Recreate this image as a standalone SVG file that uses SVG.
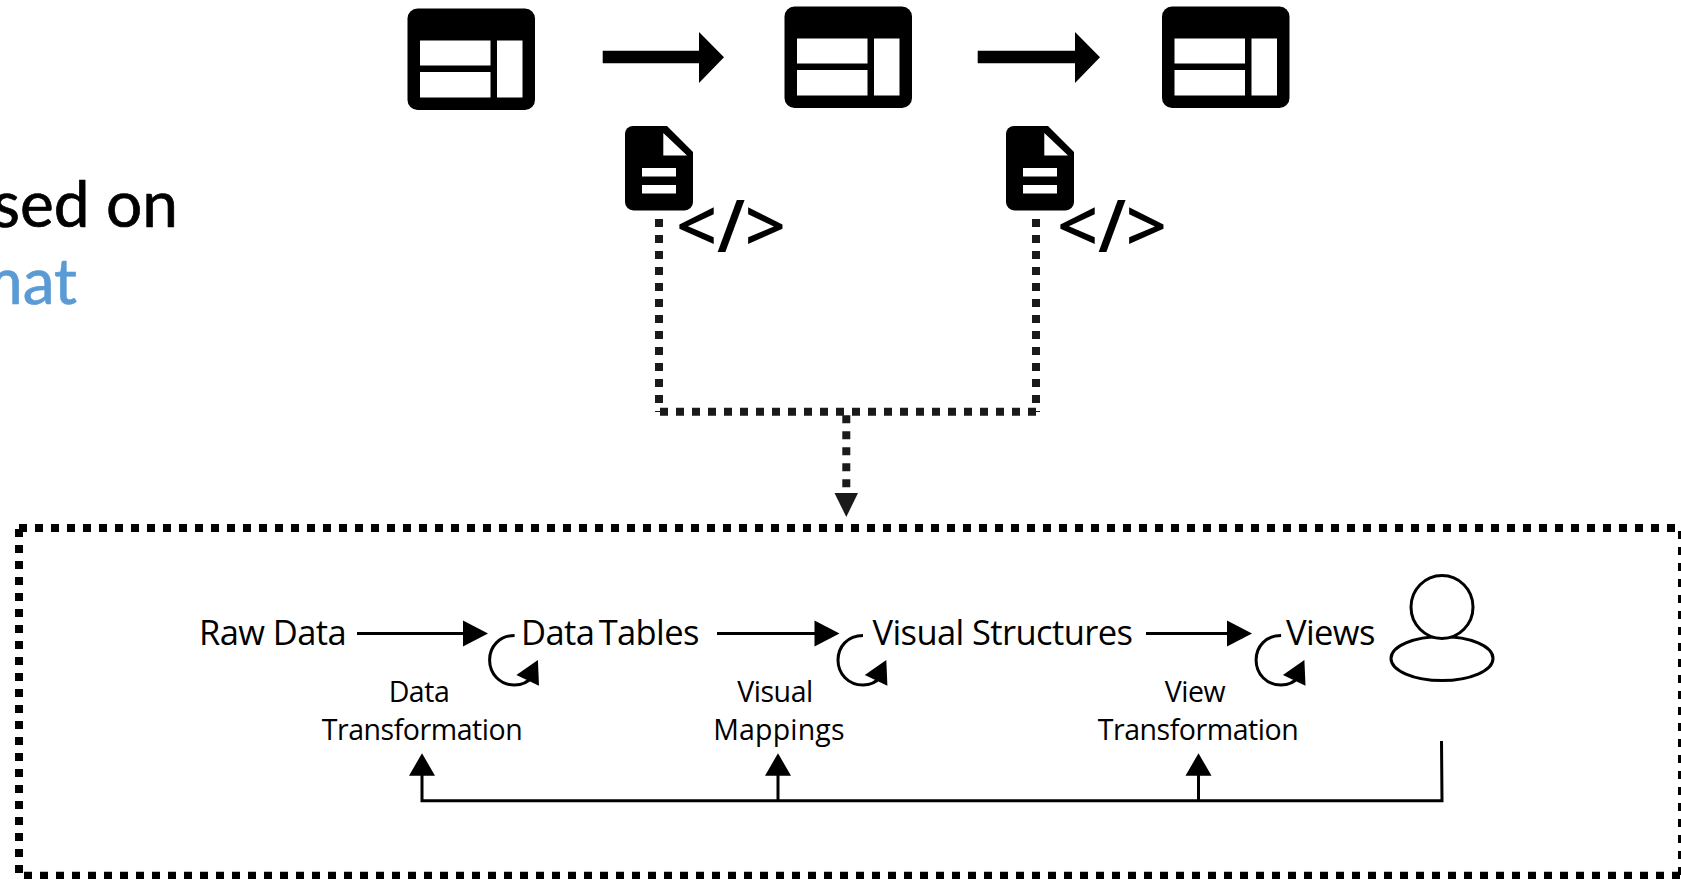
<svg xmlns="http://www.w3.org/2000/svg" width="1681" height="879" viewBox="0 0 1681 879">
<style>
.dot{fill:none;stroke:#1a1a1a;stroke-width:8;stroke-dasharray:8 8}
.box{fill:none;stroke:#000;stroke-width:8;stroke-dasharray:8 8}
.ln{fill:none;stroke:#000;stroke-width:3}
.big{font-family:"Open Sans","Noto Sans",sans-serif;font-size:34.500px;fill:#000;letter-spacing:-.6px}
.small{font-family:"Open Sans","Noto Sans",sans-serif;font-size:28.500px;fill:#000;letter-spacing:-.45px;text-anchor:middle}
.head{font-family:Lato,"Open Sans",sans-serif;font-size:64px;text-anchor:end;stroke-width:.7px;stroke-linejoin:round}
.code{font-family:"Open Sans",sans-serif;font-weight:600;font-size:72px;fill:#000}
</style>
<defs>
<g id="tbl"><rect x="0" y="0" width="127.500" height="101.500" rx="10" fill="#000"/><path fill="#fff" d="M12.500 32h70.500v25h-70.500zM12.500 63.500h70.500v25.500h-70.500zM89.500 32h25.500v57h-25.500z"/></g>
<g id="doc"><path fill="#000" d="M633 126H667L693 152V202a8.500 8.500 0 0 1-8.500 8.500H633.500a8.500 8.500 0 0 1-8.500-8.500V134a8 8 0 0 1 8-8z"/><path fill="#fff" d="M663.300 133L687 155.500H663.300zM642 168h34v8.500h-34zM642 185h34v8.500h-34z"/></g>
<g id="curl"><path class="ln" d="M514.600 635.500C499 635.500 489.600 647 489.600 660C489.600 674 500 685 514.600 685C522 685 528 682 532 677"/><path fill="#000" d="M516.400 675L537.900 660L539 685.700z"/></g>
<path id="ah" fill="#000" d="M-25 -13L0 0L-25 13z"/>
</defs>
<g id="caption">
<text class="head" x="178" y="227" fill="#000" stroke="#000">sed on</text>
<text class="head" x="77" y="304" fill="#5b9bd5" stroke="#5b9bd5">mat</text>
</g>
<g id="connectors">
<path fill="#000" d="M602.700 50.700H699V32L724 57.300L699 83V63.300H602.700z"/>
<path fill="#000" d="M977.700 50.700H1075V32L1100 57.300L1075 83V63.300H977.700z"/>
<path class="dot" d="M659 219V406"/>
<path class="dot" d="M1036 219V406"/>
<path d="M655 411.500H660M1036 411.500H1040" stroke="#1a1a1a" stroke-width="1"/>
<path class="dot" d="M660 411.700H1036"/>
<path class="dot" d="M846.300 415.300V490"/>
<path fill="#1a1a1a" d="M834.500 493H858L846.300 517z"/>
<path class="box" d="M19 528H1681"/>
<path class="box" d="M19 529V879"/>
<path class="box" d="M24 875.700H1681"/>
<path class="box" d="M1682 531V875"/>
<path class="ln" d="M357 633.500H465"/><use href="#ah" x="488" y="633.500"/>
<path class="ln" d="M717 633.500H816"/><use href="#ah" x="839.500" y="633.500"/>
<path class="ln" d="M1146 633.500H1228"/><use href="#ah" x="1252" y="633.500"/>
<use href="#curl"/>
<use href="#curl" x="348.400"/>
<use href="#curl" x="766.500"/>
<path class="ln" d="M1441.500 741L1442 800.700H422V775"/>
<path class="ln" d="M778 800.700V775M1198.500 800.700V775"/>
<path fill="#000" d="M422 753.300L435 775.700H409zM778 753.300L791 775.700H765zM1198.500 753.300L1211.500 775.700H1185.500z"/>
</g>
<g id="table-1"><use href="#tbl" x="407.500" y="8.500"/></g>
<g id="table-2"><use href="#tbl" x="784.500" y="6.500"/></g>
<g id="table-3"><use href="#tbl" x="1162" y="6.500"/></g>
<g id="doc-1"><use href="#doc"/><text class="code" x="676" y="252" textLength="110" lengthAdjust="spacing">&lt;/&gt;</text></g>
<g id="doc-2"><use href="#doc" x="381"/><text class="code" x="1057" y="252" textLength="110" lengthAdjust="spacing">&lt;/&gt;</text></g>
<g id="raw-data"><text class="big" x="199" y="644.500">Raw Data</text></g>
<g id="data-tables"><text class="big" x="521" y="644.500" word-spacing="-4">Data Tables</text></g>
<g id="visual-structures"><text class="big" x="872.500" y="644.500">Visual Structures</text></g>
<g id="views"><text class="big" x="1286" y="644.500">Views</text></g>
<g id="data-transformation"><text class="small" x="419" y="702">Data</text><text class="small" x="422" y="740">Transformation</text></g>
<g id="visual-mappings"><text class="small" x="775" y="702">Visual</text><text class="small" x="779" y="740" style="letter-spacing:.2px">Mappings</text></g>
<g id="view-transformation"><text class="small" x="1195" y="702">View</text><text class="small" x="1198" y="740">Transformation</text></g>
<g id="user"><ellipse class="ln" cx="1442" cy="658.500" rx="51" ry="22"/><ellipse cx="1442" cy="607" rx="31" ry="31.500" fill="#fff" stroke="#000" stroke-width="3"/></g>
</svg>
